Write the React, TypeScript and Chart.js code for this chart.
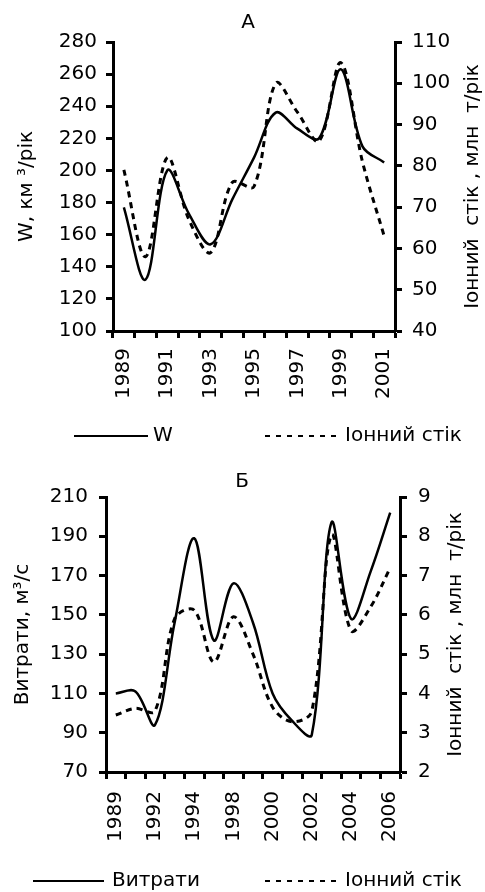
import React, { useEffect, useRef } from 'react';
import { Chart, registerables } from 'chart.js';

Chart.register(...registerables);

const FONT = 'DejaVu Sans';

// Panel А
const yearsA = ['1989', '1990', '1991', '1992', '1993', '1994', '1995', '1996', '1997', '1998', '1999', '2000', '2001'];
const flowA = [177, 132, 200, 173, 154, 182, 208, 236, 226, 220, 263, 215, 205];
const ionA = [79, 58, 82, 67, 59, 76, 75, 100, 93, 86, 105, 81, 63];
const leftTicksA = { min: 100, max: 280, step: 20 };
const rightTicksA = { min: 40, max: 110, step: 10 };

// Panel Б
const yearsB = ['1989', '1990', '1992', '1993', '1994', '1996', '1998', '1999', '2000', '2001', '2002', '2003', '2004', '2005', '2006'];
const flowB = [110, 111, 94, 146, 189, 137, 166, 146, 110, 96, 89, 197, 148, 172, 202];
const ionB = [3.45, 3.62, 3.55, 5.9, 6.12, 4.8, 5.95, 5.0, 3.65, 3.28, 3.55, 8.03, 5.6, 6.2, 7.2];
const leftTicksB = { min: 70, max: 210, step: 20 };
const rightTicksB = { min: 2, max: 9, step: 1 };

const W = 485;
const H = 446;

type Geo = {
  title: string; titleX: number; titleY: number;
  left: number; right: number; top: number; bottom: number;
  leftPad: number; rightPad: number; xPad: number;
  leftTitle: string; leftTitleX: number;
  rightTitle: string; rightTitleX: number;
  legendY: number;
  leg1: [number, number, number]; // line start, line end, text x
  leg2: [number, number, number];
  name1: string; name2: string;
};

const decorPlugin = {
  id: 'decor',
  afterDraw(chart: any, _args: any, opts: any) {
    const g: Geo = opts.geo;
    if (!g) return;
    const ctx = chart.ctx;
    const ca = chart.chartArea;
    const cy = (ca.top + ca.bottom) / 2;
    ctx.save();
    ctx.fillStyle = '#000';
    ctx.strokeStyle = '#000';
    ctx.font = `20px "${FONT}"`;
    ctx.textBaseline = 'middle';
    ctx.textAlign = 'center';
    ctx.fillText(g.title, g.titleX, g.titleY);

    // axis titles (both read bottom-to-top)
    ctx.save();
    ctx.translate(g.leftTitleX, cy);
    ctx.rotate(-Math.PI / 2);
    ctx.fillText(g.leftTitle, 0, 0);
    ctx.restore();
    ctx.save();
    ctx.translate(g.rightTitleX, cy);
    ctx.rotate(-Math.PI / 2);
    ctx.fillText(g.rightTitle, 0, 0);
    ctx.restore();

    // legend
    ctx.lineWidth = 2;
    ctx.setLineDash([]);
    ctx.beginPath();
    ctx.moveTo(g.leg1[0], g.legendY);
    ctx.lineTo(g.leg1[1], g.legendY);
    ctx.stroke();
    ctx.setLineDash([5, 6]);
    ctx.beginPath();
    ctx.moveTo(g.leg2[0], g.legendY);
    ctx.lineTo(g.leg2[1], g.legendY);
    ctx.stroke();
    ctx.setLineDash([]);
    ctx.textAlign = 'left';
    ctx.fillText(g.name1, g.leg1[2], g.legendY);
    ctx.fillText(g.name2, g.leg2[2], g.legendY);
    ctx.restore();
  },
};

function Panel(props: {
  labels: string[]; s1: number[]; s2: number[];
  lt: { min: number; max: number; step: number };
  rt: { min: number; max: number; step: number };
  geo: Geo;
}) {
  const ref = useRef<HTMLCanvasElement | null>(null);
  useEffect(() => {
    const { labels, s1, s2, lt, rt, geo } = props;
    const font = { family: FONT, size: 20 };
    const grid = { drawOnChartArea: false, color: '#000', tickLength: 7, tickWidth: 3, tickColor: '#000' };
    const border = { display: true, color: '#000', width: 3 };
    const chart = new Chart(ref.current as HTMLCanvasElement, {
      type: 'line',
      data: {
        labels,
        datasets: [
          { data: s1, yAxisID: 'y', borderColor: '#000', borderWidth: 2.5, pointRadius: 0, tension: 0.35, fill: false },
          { data: s2, yAxisID: 'y1', borderColor: '#000', borderWidth: 3, borderDash: [6, 5], pointRadius: 0, tension: 0.35, fill: false },
        ],
      },
      options: {
        responsive: false,
        animation: false,
        devicePixelRatio: 1,
        events: [],
        layout: { padding: { top: geo.top, left: 0, right: 0, bottom: 0 } },
        plugins: {
          legend: { display: false },
          tooltip: { enabled: false },
          title: { display: false },
          decor: { geo },
        } as any,
        scales: {
          x: {
            type: 'category',
            offset: true,
            grid: { ...grid, offset: true },
            border,
            ticks: {
              autoSkip: false,
              minRotation: 90,
              maxRotation: 90,
              padding: geo.xPad,
              color: '#000',
              font,
              callback: (_v: any, i: number) => (i % 2 === 0 ? labels[i] : ''),
            },
            afterFit: (s: any) => { s.height = H - geo.bottom; },
          },
          y: {
            position: 'left',
            min: lt.min,
            max: lt.max,
            grid,
            border,
            ticks: { stepSize: lt.step, padding: geo.leftPad, color: '#000', font },
            afterFit: (s: any) => { s.width = geo.left; },
          },
          y1: {
            position: 'right',
            min: rt.min,
            max: rt.max,
            grid,
            border,
            ticks: { stepSize: rt.step, padding: geo.rightPad, color: '#000', font },
            afterFit: (s: any) => { s.width = W - geo.right; },
          },
        } as any,
      },
      plugins: [decorPlugin],
    });
    return () => chart.destroy();
  }, []);
  return <canvas ref={ref} width={W} height={H} style={{ display: 'block', width: W, height: H }} />;
}

const ionTitle = 'Іонний  стік , млн  т/рік';

const geoA: Geo = {
  title: 'А', titleX: 248, titleY: 23,
  left: 113, right: 395, top: 42, bottom: 331,
  leftPad: 9, rightPad: 10, xPad: 10,
  leftTitle: 'W, км ³/рік', leftTitleX: 27,
  rightTitle: ionTitle, rightTitleX: 473,
  legendY: 436,
  leg1: [74, 148, 153], leg2: [265, 339, 345],
  name1: 'W', name2: 'Іонний стік',
};

const geoB: Geo = {
  title: 'Б', titleX: 242, titleY: 36,
  left: 106, right: 400, top: 51, bottom: 326,
  leftPad: 11, rightPad: 11, xPad: 12,
  leftTitle: 'Витрати, м³/с', leftTitleX: 23,
  rightTitle: ionTitle, rightTitleX: 456,
  legendY: 435,
  leg1: [33, 104, 112], leg2: [265, 339, 345],
  name1: 'Витрати', name2: 'Іонний стік',
};

export default function App() {
  return (
    <div style={{ position: 'absolute', left: 0, top: 0, width: W, height: 2 * H, background: '#fff' }}>
      <Panel labels={yearsA} s1={flowA} s2={ionA} lt={leftTicksA} rt={rightTicksA} geo={geoA} />
      <Panel labels={yearsB} s1={flowB} s2={ionB} lt={leftTicksB} rt={rightTicksB} geo={geoB} />
    </div>
  );
}
